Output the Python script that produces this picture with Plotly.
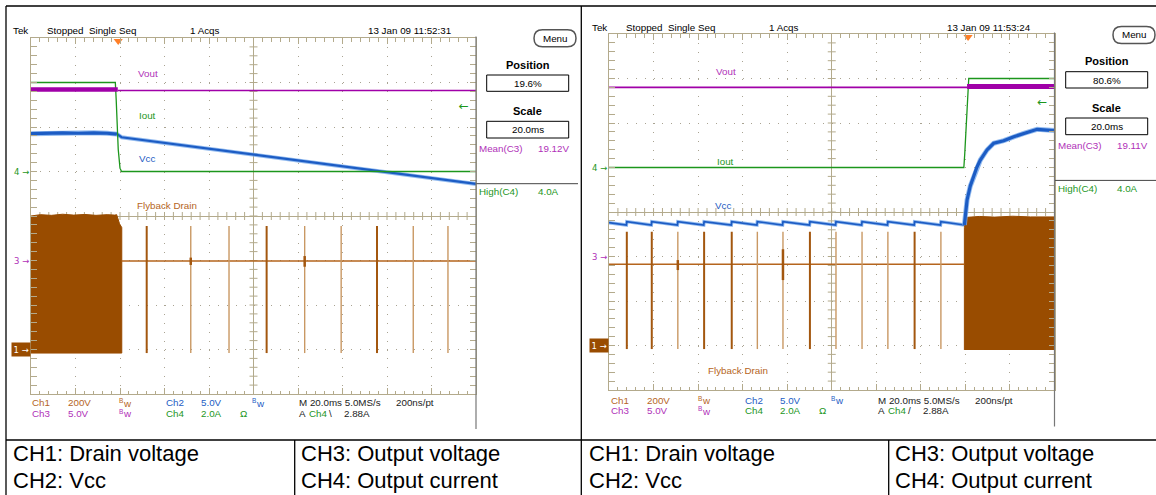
import numpy as np
import plotly.graph_objects as go

W, H = 1156, 495

# ---------------- acquisition settings ----------------
TIME_DIV = 20.0                      # ms / div
N_HDIV, N_VDIV = 10, 8
CH_SCALE = {1: 200.0, 2: 5.0, 3: 5.0, 4: 2.0}   # units per division
CH_REF = {1: -3.0, 2: -1.0, 3: -1.0, 4: 1.0}    # ground markers, div from centre
TRIG_LEVEL = 2.88                    # A, Ch4

L_POS, R_POS = 19.6, 80.6            # trigger position, % of record
L_MEAN, R_MEAN = "19.12V", "19.11V"
HIGH_C4 = "4.0A"

# ---------------- left capture: load switched off ----------------
L_vout_pre_t = [-39.2, -0.2]
L_vout_pre_v = [19.2, 19.2]
L_vout_post_t = [-0.2, 160.8]
L_vout_post_v = [19.1, 19.1]

L_iout_t = [-39.2, -1.3, -0.9, 0.0, 0.8, 1.5, 160.8]
L_iout_a = [4.0, 4.0, 3.2, 1.0, 0.15, 0.0, 0.0]

L_vcc_pre_t = [-39.2, -32.0, -25.0, -18.0, -11.0, -5.0, -0.5]
L_vcc_pre_v = [14.25, 14.3, 14.35, 14.3, 14.35, 14.3, 14.2]
L_vcc_post_t = [-0.5, 1.5, 160.8]
L_vcc_post_v = [14.2, 13.85, 8.6]

L_burst_t = [-39.2, -35.0, -30.0, -25.0, -20.0, -15.0, -10.0, -5.0, -1.5, -0.7, 0.6, 1.6, 1.6, -39.2]
L_burst_v = [600, 606, 603, 608, 604, 607, 603, 606, 604, 606, 565, 548, -16, -16]
L_drain_dc_t = [1.6, 160.8]
L_drain_dc_v = [398, 398]
L_spike_dark_t = [12.8, 66.7, 116.3]
L_spike_light_t = [32.6, 49.8, 83.8, 100.2, 132.6, 148.2]
L_spike_top, L_spike_bot = 555, -16
L_blip_t = [32.6, 83.8]
L_blip_lo = [380, 372]
L_blip_hi = [413, 420]

# ---------------- right capture: restart from hiccup ----------------
R_vout_pre_t = [-161.2, -0.45]
R_vout_pre_v = [19.0, 19.0]
R_vout_post_t = [-0.45, 38.8]
R_vout_post_v = [19.1, 19.1]

R_iout_t = [-161.2, -1.9, -1.5, -0.2, 0.3, 38.8]
R_iout_a = [0.0, 0.0, 0.6, 3.6, 4.0, 4.0]

R_vcc_t = [-161.2,
           -153.4, -153.2, -142.2, -142.0, -130.5, -130.3, -118.7, -118.5,
           -106.3, -106.1, -94.8, -94.6, -83.3, -83.1, -71.2, -71.0,
           -59.5, -59.3, -47.8, -47.6, -36.2, -36.0, -24.2, -24.0,
           -12.4, -12.2,
           -1.66, -1.0, -0.45, 1.0, 2.5, 4.0, 5.5, 8.5, 11.5, 16.0, 20.5,
           25.0, 31.0, 35.5, 38.8]
R_vcc_v = [3.80,
           3.54, 3.92, 3.54, 3.92, 3.54, 3.92, 3.54, 3.92,
           3.54, 3.92, 3.54, 3.92, 3.54, 3.92, 3.54, 3.92,
           3.54, 3.92, 3.54, 3.92, 3.54, 3.92, 3.54, 3.92,
           3.54, 3.92,
           3.54, 5.0, 6.35, 7.92, 8.97, 10.06, 10.84, 11.97, 12.72, 13.01, 13.46,
           13.84, 14.29, 14.21, 14.16]

R_burst_t = [-1.66, -1.66, -1.2, -0.5, 5.0, 12.0, 20.0, 28.0, 38.8, 38.8]
R_burst_v = [-20, 530, 565, 576, 580, 577, 581, 578, 578, -20]
R_drain_dc_t = [-161.2, -1.66]
R_drain_dc_v = [365, 365]
R_spike_dark_t = [-153.2, -142.0, -118.5, -106.1, -71.0, -24.0]
R_spike_light_t = [-130.3, -94.6, -83.1, -59.3, -47.6, -36.0, -12.2]
R_spike_top, R_spike_bot = 511, -16
R_blip_t = [-130.3, -83.1]
R_blip_lo = [339, 294]
R_blip_hi = [384, 433]

# ---------------- colours / fonts ----------------
GRID = "#b3aa8c"
DOT = "#a9a392"
PURPLE = "#a000a8"
PURPLE_T = "#b030b8"
GREEN = "#1c961c"
BLUE = "#1c5cc4"
BLUE_L = "rgba(120,170,235,0.8)"
BROWN = "#994c00"
BROWN_D = "#a3570f"
BROWN_L = "#c99863"
BROWN_T = "#b5651d"
ORANGE = "#ff7f27"
SCOPE_FONT = "Liberation Sans, Arial, sans-serif"
SANS = "Liberation Sans, Arial, sans-serif"
ARROW_FONT = "DejaVu Sans, sans-serif"
FS = 9.8


def dv(ch, vals):
    """channel value -> screen divisions from centre (None kept as gap)"""
    return [None if v is None else CH_REF[ch] + v / CH_SCALE[ch] for v in vals]


def segs(ts, lo, hi):
    xs, ys = [], []
    for i, t in enumerate(ts):
        a = lo[i] if isinstance(lo, list) else lo
        b = hi[i] if isinstance(hi, list) else hi
        xs += [t, t, None]
        ys += [a, b, None]
    return xs, ys


fig = go.Figure()


def line(xa, ya, t, y, color, width):
    fig.add_trace(go.Scatter(x=t, y=y, xaxis=xa, yaxis=ya, mode="lines",
                             line=dict(color=color, width=width),
                             hoverinfo="skip", showlegend=False))


def centre_ticks(xa, ya):
    """small ticks along the centre cross of the graticule (divisions)"""
    xs, ys = [], []
    h = 4.0 / 44.5
    for x in np.arange(-5, 5.001, 0.2):
        if abs(abs(x) - 5) > 1e-6:
            xs += [x, x, None]
            ys += [-h, h, None]
    for y in np.arange(-4, 4.001, 0.2):
        if abs(abs(y) - 4) > 1e-6:
            xs += [-h, h, None]
            ys += [y, y, None]
    line(xa, ya, xs, ys, GRID, 1)


def draw_capture(xa_grid, ya, xa_t, d):
    centre_ticks(xa_grid, ya)
    # Ch1: flyback drain
    fig.add_trace(go.Scatter(x=d["burst_t"], y=dv(1, d["burst_v"]), xaxis=xa_t, yaxis=ya,
                             mode="lines", fill="toself", fillcolor=BROWN,
                             line=dict(color=BROWN, width=1), hoverinfo="skip", showlegend=False))
    line(xa_t, ya, d["dc_t"], dv(1, d["dc_v"]), BROWN_T, 1.6)
    sx, sy = segs(d["spk_light"], d["spk_bot"], d["spk_top"])
    line(xa_t, ya, sx, dv(1, sy), BROWN_L, 1.4)
    sx, sy = segs(d["spk_dark"], d["spk_bot"], d["spk_top"])
    line(xa_t, ya, sx, dv(1, sy), BROWN_D, 2)
    sx, sy = segs(d["blip_t"], d["blip_lo"], d["blip_hi"])
    line(xa_t, ya, sx, dv(1, sy), BROWN_D, 2.5)
    # Ch2: Vcc
    for seg_t, seg_v, wide in d["vcc"]:
        line(xa_t, ya, seg_t, dv(2, seg_v), BLUE_L, wide + 1.8)
        line(xa_t, ya, seg_t, dv(2, seg_v), BLUE, wide)
    # Ch4: output current
    line(xa_t, ya, d["iout_t"], dv(4, d["iout_a"]), GREEN, 1.3)
    # Ch3: output voltage
    for seg_t, seg_v, wide in d["vout"]:
        line(xa_t, ya, seg_t, dv(3, seg_v), PURPLE, wide)
    # trigger position marker
    fig.add_trace(go.Scatter(x=[0], y=[4 - 0.07], xaxis=xa_t, yaxis=ya, mode="markers",
                             marker=dict(symbol="triangle-down", size=8, color=ORANGE),
                             cliponaxis=False, hoverinfo="skip", showlegend=False))
    # trigger level marker on Ch4
    fig.add_trace(go.Scatter(x=[d["t_end"] - 5.5], y=dv(4, [TRIG_LEVEL]), xaxis=xa_t, yaxis=ya,
                             mode="markers+text", text=["←"], textposition="middle center",
                             textfont=dict(family=ARROW_FONT, size=12, color=GREEN),
                             marker=dict(size=1, color="rgba(0,0,0,0)"),
                             hoverinfo="skip", showlegend=False))


left = dict(
    burst_t=L_burst_t, burst_v=L_burst_v, dc_t=L_drain_dc_t, dc_v=L_drain_dc_v,
    spk_light=L_spike_light_t, spk_dark=L_spike_dark_t, spk_top=L_spike_top, spk_bot=L_spike_bot,
    blip_t=L_blip_t, blip_lo=L_blip_lo, blip_hi=L_blip_hi,
    vcc=[(L_vcc_pre_t, L_vcc_pre_v, 3.2), (L_vcc_post_t, L_vcc_post_v, 2.2)],
    iout_t=L_iout_t, iout_a=L_iout_a,
    vout=[(L_vout_pre_t, L_vout_pre_v, 4.5), (L_vout_post_t, L_vout_post_v, 1.6)],
    t_end=L_vout_post_t[-1],
)
right = dict(
    burst_t=R_burst_t, burst_v=R_burst_v, dc_t=R_drain_dc_t, dc_v=R_drain_dc_v,
    spk_light=R_spike_light_t, spk_dark=R_spike_dark_t, spk_top=R_spike_top, spk_bot=R_spike_bot,
    blip_t=R_blip_t, blip_lo=R_blip_lo, blip_hi=R_blip_hi,
    vcc=[(R_vcc_t[:28], R_vcc_v[:28], 1.7), (R_vcc_t[27:], R_vcc_v[27:], 3.2)],
    iout_t=R_iout_t, iout_a=R_iout_a,
    vout=[(R_vout_pre_t, R_vout_pre_v, 1.6), (R_vout_post_t, R_vout_post_v, 5)],
    t_end=R_vout_post_t[-1],
)

draw_capture("x", "y", "x2", left)
draw_capture("x3", "y3", "x4", right)

# ---------------- axes ----------------
L_BOX = (31, 38, 476, 394)
R_BOX = (609, 34, 1054.5, 390)


def grid_axis(rng, dom):
    return dict(range=rng, domain=dom, dtick=1, tick0=0, showgrid=True, gridcolor=DOT,
                griddash="1px,7.9px", gridwidth=1, zeroline=True, zerolinecolor=GRID,
                zerolinewidth=1, showline=True, linecolor=GRID, linewidth=1, mirror="allticks",
                ticks="inside", ticklen=6, tickcolor=GRID, tickwidth=1, showticklabels=False,
                minor=dict(dtick=0.2, ticks="inside", ticklen=3.5, tickcolor=GRID, showgrid=False),
                fixedrange=True)


def time_axis(pos, over, anchor):
    t0 = -pos / 100 * N_HDIV * TIME_DIV
    return dict(range=[t0, t0 + N_HDIV * TIME_DIV], overlaying=over, anchor=anchor,
                visible=False, fixedrange=True)


def xdom(b):
    return [b[0] / W, b[2] / W]


def ydom(b):
    return [1 - b[3] / H, 1 - b[1] / H]


fig.update_layout(
    xaxis=grid_axis([-5, 5], xdom(L_BOX)) | dict(anchor="y"),
    yaxis=grid_axis([-4, 4], ydom(L_BOX)) | dict(anchor="x"),
    xaxis2=time_axis(L_POS, "x", "y"),
    xaxis3=grid_axis([-5, 5], xdom(R_BOX)) | dict(anchor="y3"),
    yaxis3=grid_axis([-4, 4], ydom(R_BOX)) | dict(anchor="x3"),
    xaxis4=time_axis(R_POS, "x3", "y3"),
)

# ---------------- text & frame ----------------
ann = []
shapes = []


def X(x):
    return x / W


def Y(y):
    return 1 - y / H


def txt(x, y, s, color="black", size=FS, anchor="left", family=SCOPE_FONT, weight="normal"):
    ann.append(dict(x=X(x), y=Y(y), xref="paper", yref="paper", text=s, showarrow=False,
                    xanchor=anchor, yanchor="middle", borderpad=0,
                    font=dict(family=family, size=size, color=color, weight=weight)))


def seg(x0, y0, x1, y1, color="black", width=1.3):
    shapes.append(dict(type="line", xref="paper", yref="paper", x0=X(x0), y0=Y(y0),
                       x1=X(x1), y1=Y(y1), line=dict(color=color, width=width)))


def rect(x0, y0, x1, y1, color="black", width=1):
    shapes.append(dict(type="rect", xref="paper", yref="paper", x0=X(x0), y0=Y(y0),
                       x1=X(x1), y1=Y(y1), line=dict(color=color, width=width)))


def menu(x0, y0, x1, y1):
    r = (y1 - y0) / 2
    ym = (y0 + y1) / 2
    p = (f"M{X(x0 + r)},{Y(y0)} L{X(x1 - r)},{Y(y0)} Q{X(x1)},{Y(y0)} {X(x1)},{Y(ym)} "
         f"Q{X(x1)},{Y(y1)} {X(x1 - r)},{Y(y1)} L{X(x0 + r)},{Y(y1)} "
         f"Q{X(x0)},{Y(y1)} {X(x0)},{Y(ym)} Q{X(x0)},{Y(y0)} {X(x0 + r)},{Y(y0)} Z")
    shapes.append(dict(type="path", xref="paper", yref="paper", path=p,
                       line=dict(color="#555555", width=1.5)))
    txt((x0 + x1) / 2, ym, "Menu", size=FS, anchor="center")


def bw(x, y, color):
    txt(x, y - 2, "B", color, size=6.5)
    txt(x + 4, y + 0.5, "w", color, size=FS)


def scope_text(dx, dy, gdy, stamp, pos, mean, slope, labels, xa_y, box):
    # header
    txt(12.3 + dx, 31 + dy, "Tek")
    txt(45.7 + dx, 31 + dy, "Stopped  Single Seq")
    txt(188.7 + dx, 31 + dy, "1 Acqs")
    txt(366.7 + dx, 31 + dy, stamp)
    # side panel
    menu(534 + dx, 29.7 + dy, 576 + dx, 46.7 + dy)
    txt(527.5 + dx, 64.7 + dy, "Position", size=11, anchor="center", family=SANS, weight="bold")
    rect(486.7 + dx, 75 + dy, 568.7 + dx, 91.3 + dy)
    txt(527.7 + dx, 83.3 + dy, f"{pos}%", anchor="center")
    txt(527.7 + dx, 111 + dy, "Scale", size=11, anchor="center", family=SANS, weight="bold")
    rect(486.7 + dx, 121.3 + dy, 568.7 + dx, 138 + dy)
    txt(527.7 + dx, 129.6 + dy, f"{TIME_DIV:.1f}ms", anchor="center")
    txt(477.7 + dx, 149 + dy, "Mean(C3)", PURPLE_T)
    txt(536.7 + dx, 149 + dy, mean, PURPLE_T)
    seg(box[2], 183.7 + dy, 578 + dx, 183.7 + dy, "#444444", 1)
    txt(477.7 + dx, 191.7 + dy, "High(C4)", GREEN)
    txt(536.7 + dx, 191.7 + dy, HIGH_C4, GREEN)
    seg(box[2], box[1] - 1.5, box[2], 429 + gdy, "#777777", 1.2)
    # bottom readout
    r1, r2 = 402.7 + gdy, 413 + gdy
    for s, x, c in [("Ch1", 31, BROWN_T), ("200V", 67, BROWN_T),
                    ("Ch2", 164.7, BLUE), ("5.0V", 200, BLUE),
                    ("M 20.0ms 5.0MS/s", 298, "#222222"), ("200ns/pt", 394.7, "#222222")]:
        txt(x + dx, r1, s, c)
    bw(118 + dx, r1, BROWN_T)
    bw(251 + dx, r1, BLUE)
    for s, x, c in [("Ch3", 31, PURPLE_T), ("5.0V", 67, PURPLE_T),
                    ("Ch4", 164.7, GREEN), ("2.0A", 200, GREEN), ("Ω", 239, GREEN),
                    ("A", 298, "#222222"), ("Ch4", 308, GREEN), (slope, 328, "#222222"),
                    ("2.88A", 343, "#222222")]:
        txt(x + dx, r2, s, c)
    bw(118 + dx, r2, PURPLE_T)
    # waveform labels
    for s, (x, y), c in zip(["Vout", "Iout", "Vcc", "Flyback Drain"], labels,
                            [PURPLE_T, GREEN, BLUE, BROWN_T]):
        txt(x, y, s, c, anchor="center")
    # channel ground markers
    for s, ch, c in [("4 →", 4, GREEN), ("3 →", 3, PURPLE_T)]:
        ann.append(dict(x=X(box[0] - 1), y=CH_REF[ch], xref="paper", yref=xa_y, text=s,
                        showarrow=False, xanchor="right", yanchor="middle", borderpad=0,
                        font=dict(family=ARROW_FONT, size=8.5, color=c)))
    ann.append(dict(x=X(box[0]), y=CH_REF[1], xref="paper", yref=xa_y, text="1 →",
                    showarrow=False, xanchor="right", yanchor="middle", bgcolor=BROWN,
                    borderpad=1.5, font=dict(family=ARROW_FONT, size=8.5, color="white")))


scope_text(0, 0, 0, "13 Jan 09 11:52:31", L_POS, L_MEAN, "\\",
           [(147.5, 73.7), (147.3, 115.7), (147, 158), (166.7, 205)], "y", L_BOX)
scope_text(579, -3.3, -2.5, "13 Jan 09 11:53:24", R_POS, R_MEAN, "/",
           [(726, 71), (725, 161), (723.3, 205.3), (737.7, 370)], "y3", R_BOX)

# page frame and legend table
seg(6, 6, W, 6)
seg(6, 6, 6, H)
seg(581.3, 6, 581.3, H)
seg(6, 440, W, 440)
seg(294.7, 440, 294.7, H)
seg(888.7, 440, 888.7, H)
for x0, (a, b) in [(12, ("CH1: Drain voltage", "CH2: Vcc")),
                   (300, ("CH3: Output voltage", "CH4: Output current")),
                   (588, ("CH1: Drain voltage", "CH2: Vcc")),
                   (894, ("CH3: Output voltage", "CH4: Output current"))]:
    txt(x0, 453, a, "black", 22, family=SANS)
    txt(x0, 480.5, b, "black", 22, family=SANS)

fig.update_layout(width=W, height=H, margin=dict(l=0, r=0, t=0, b=0),
                  paper_bgcolor="white", plot_bgcolor="white", showlegend=False,
                  annotations=ann, shapes=shapes)

fig.write_html("out.html", config={"displayModeBar": False})
